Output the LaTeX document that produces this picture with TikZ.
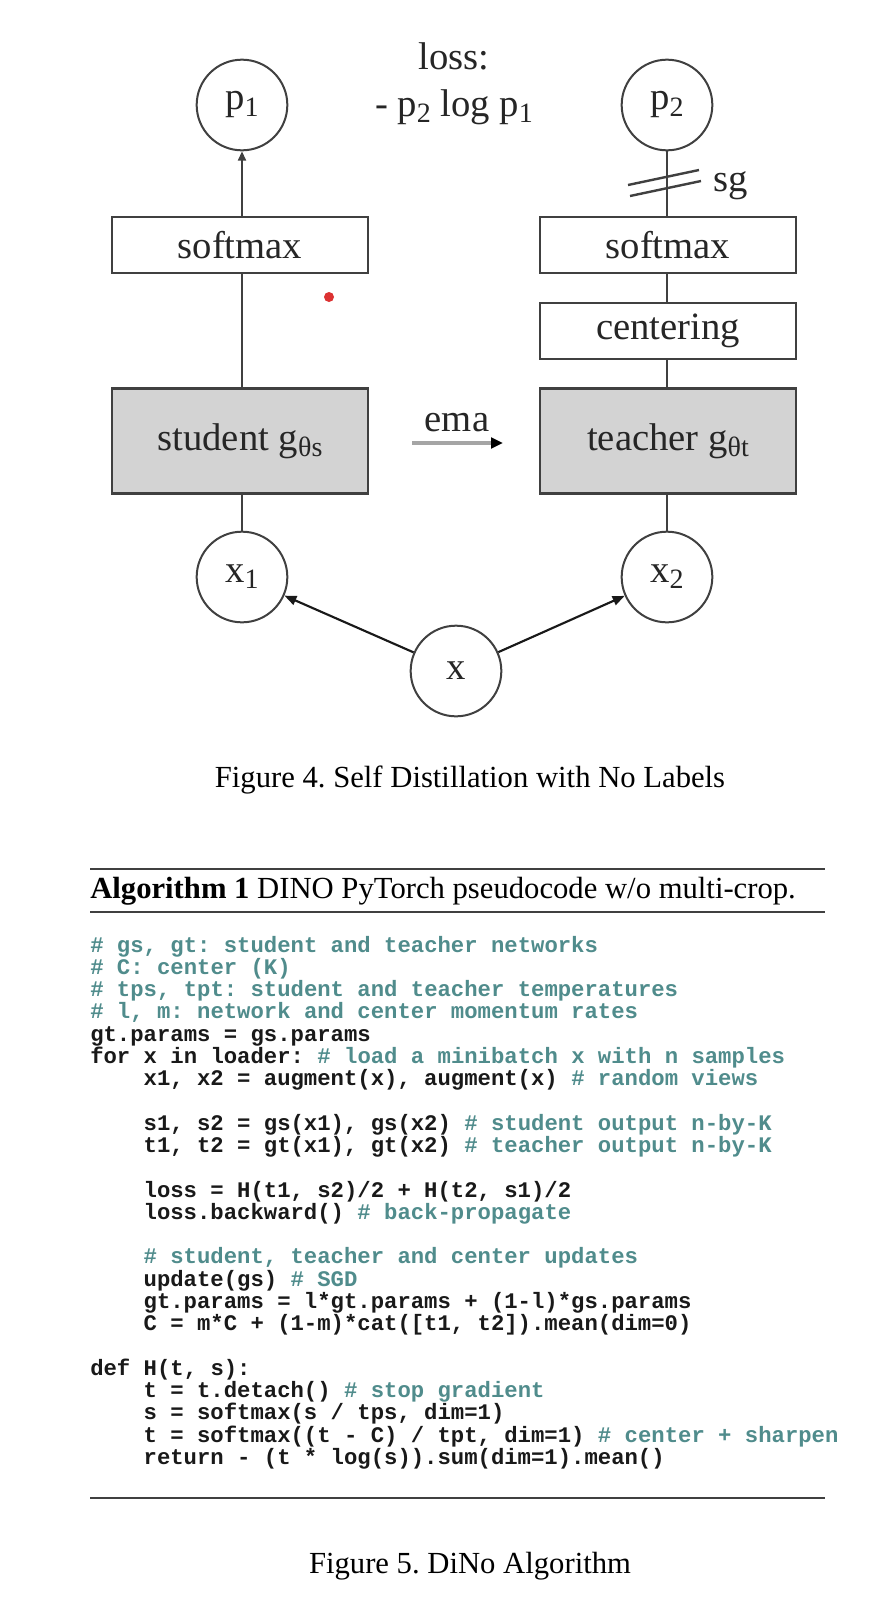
\documentclass[tikz,border=0pt]{standalone}
\usepackage{fontspec}
\setmainfont{Liberation Serif}
\newfontfamily\codefont{Liberation Mono}
\usetikzlibrary{arrows.meta}
\definecolor{linegray}{RGB}{64,64,64}
\definecolor{boxfill}{RGB}{211,211,211}
\definecolor{cmtcol}{RGB}{80,140,140}
\definecolor{dotred}{RGB}{220,50,50}
\definecolor{emagray}{RGB}{165,165,165}
\newcommand\sbx[1]{\raisebox{-0.35ex}{\fontsize{21pt}{21pt}\selectfont #1}}
\newcommand\cmt[1]{{\color{cmtcol}#1}}
\frenchspacing
\tikzset{
  diag/.style={font=\fontsize{29pt}{34pt}\selectfont, text=black!85},
  circ/.style={diag, circle, draw=linegray, line width=1.5pt, minimum size=68pt, inner sep=0pt},
  wbox/.style={diag, draw=linegray, line width=2pt, minimum width=192pt, minimum height=42pt, inner sep=0pt},
  gbox/.style={wbox, fill=boxfill, minimum height=79pt},
  conn/.style={draw=linegray, line width=1.5pt},
  arr/.style={conn, -{Triangle[length=7pt,width=6pt]}},
  blackarr/.style={draw=black!90, line width=1.6pt, -{Triangle[length=9pt,width=7pt]}},
  emaarr/.style={draw=emagray, line width=2.4pt, -{Triangle[length=9pt,width=8pt,color=black]}},
  codeline/.style={anchor=base west, inner sep=0pt, font=\codefont\bfseries\fontsize{16.7pt}{20pt}\selectfont, text=black!90},
  capt/.style={font=\fontsize{23pt}{27pt}\selectfont, anchor=base, inner sep=0pt, text=black},
  rulel/.style={draw=black!75, line width=1.2pt}
}
\begin{document}
\begin{tikzpicture}[x=0.75pt,y=-0.75pt]
\useasboundingbox (0,0) rectangle (878,1600);
\fill[white] (0,0) rectangle (878,1600);

% ---- Figure 4 diagram ----
\node[circ] (p1) at (242,105) {p\sbx{1}};
\node[circ] (p2) at (667,105) {p\sbx{2}};
\node[diag] (losst) at (454,56) {loss:};
\node[diag] (lossf) at (454,107) {- p\sbx{2} log p\sbx{1}};

\node[wbox] (sm1) at (240,245) {softmax};
\node[wbox] (sm2) at (668,245) {softmax};
\node[wbox] (cent) at (668,331) {centering};
\node[gbox] (stud) at (240,441) {student g\sbx{θs}};
\node[gbox] (teach) at (668,441) {teacher g\sbx{θt}};

\node[circ] (x1) at (242,577) {x\sbx{1}};
\node[circ] (x2) at (667,577) {x\sbx{2}};
\node[circ] (x) at (456,671) {x};

% left column
\draw[arr] (sm1.north -| p1) -- (p1);
\draw[conn] (stud.north -| p1) -- (sm1.south -| p1);
\draw[conn] (x1) -- (stud.south -| x1);

% right column
\draw[conn] (p2) -- (sm2.north -| p2);
\draw[conn] (sm2.south -| p2) -- (cent.north -| p2);
\draw[conn] (cent.south -| p2) -- (teach.north -| p2);
\draw[conn] (teach.south -| x2) -- (x2);

% stop-gradient hatch
\draw[conn, line width=1.8pt] (628,185) -- (699,170);
\draw[conn, line width=1.8pt] (630,196) -- (701,181);
\node[diag] (sg) at (731,186) {sg};

% ema
\coordinate (emaS) at (412,443);
\coordinate (emaE) at (503,443);
\draw[emaarr] (emaS) -- (emaE);
\node[diag] (ema) at (457,423) {ema};

% augmentations
\draw[blackarr] (x) -- (x1);
\draw[blackarr] (x) -- (x2);

% red dot
\fill[dotred] (329,297) circle [radius=5];

\node[capt] (cap4) at (470,787) {Figure 4. Self Distillation with No Labels};

% ---- Algorithm ----
\draw[rulel, line width=1.8pt] (90,869) -- (825,869);
\node[capt, anchor=base west] (head) at (90,898) {\textbf{Algorithm 1} DINO PyTorch pseudocode w/o multi-crop.};
\draw[rulel] (90,912) -- (825,912);

\def\xa{90}
\def\xb{143.4}
\node[codeline] (c0) at (\xa,{952+22.28*0}) {\cmt{\# gs, gt: student and teacher networks}};
\node[codeline] (c1) at (\xa,{952+22.28*1}) {\cmt{\# C: center (K)}};
\node[codeline] (c2) at (\xa,{952+22.28*2}) {\cmt{\# tps, tpt: student and teacher temperatures}};
\node[codeline] (c3) at (\xa,{952+22.28*3}) {\cmt{\# l, m: network and center momentum rates}};
\node[codeline] (c4) at (\xa,{952+22.28*4}) {gt.params = gs.params};
\node[codeline] (c5) at (\xa,{952+22.28*5}) {for x in loader: \cmt{\# load a minibatch x with n samples}};
\node[codeline] (c6) at (\xb,{952+22.28*6}) {x1, x2 = augment(x), augment(x) \cmt{\# random views}};
\node[codeline] (c8) at (\xb,{952+22.28*8}) {s1, s2 = gs(x1), gs(x2) \cmt{\# student output n-by-K}};
\node[codeline] (c9) at (\xb,{952+22.28*9}) {t1, t2 = gt(x1), gt(x2) \cmt{\# teacher output n-by-K}};
\node[codeline] (c11) at (\xb,{952+22.28*11}) {loss = H(t1, s2)/2 + H(t2, s1)/2};
\node[codeline] (c12) at (\xb,{952+22.28*12}) {loss.backward() \cmt{\# back-propagate}};
\node[codeline] (c14) at (\xb,{952+22.28*14}) {\cmt{\# student, teacher and center updates}};
\node[codeline] (c15) at (\xb,{952+22.28*15}) {update(gs) \cmt{\# SGD}};
\node[codeline] (c16) at (\xb,{952+22.28*16}) {gt.params = l*gt.params + (1-l)*gs.params};
\node[codeline] (c17) at (\xb,{952+22.28*17}) {C = m*C + (1-m)*cat([t1, t2]).mean(dim=0)};
\node[codeline] (c19) at (\xa,{952+22.28*19}) {def H(t, s):};
\node[codeline] (c20) at (\xb,{952+22.28*20}) {t = t.detach() \cmt{\# stop gradient}};
\node[codeline] (c21) at (\xb,{952+22.28*21}) {s = softmax(s / tps, dim=1)};
\node[codeline] (c22) at (\xb,{952+22.28*22}) {t = softmax((t - C) / tpt, dim=1) \cmt{\# center + sharpen}};
\node[codeline] (c23) at (\xb,{952+22.28*23}) {return - (t * log(s)).sum(dim=1).mean()};

\draw[rulel] (90,1498) -- (825,1498);
\node[capt] (cap5) at (470,1573) {Figure 5. DiNo Algorithm};
\end{tikzpicture}
\end{document}
